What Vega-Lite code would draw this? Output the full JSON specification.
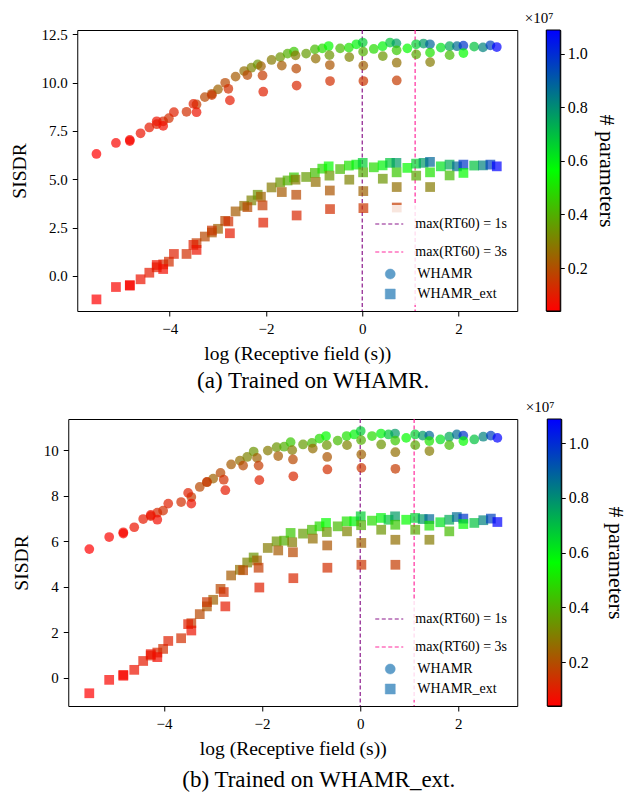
{
  "$schema": "https://vega.github.io/schema/vega-lite/v6.json",
  "padding": {"left": 8, "top": 10, "right": 4, "bottom": 2},
  "background": "white",
  "datasets": {
    "rt": [{"x": 0, "name": "max(RT60) = 1s"}, {"x": 1.0986, "name": "max(RT60) = 3s"}],
    "a": [
      {"x": -5.521, "p": 399700, "WHAMR": 6.31, "WHAMR_ext": -1.21},
      {"x": -5.116, "p": 532400, "WHAMR": 6.88, "WHAMR_ext": -0.57},
      {"x": -4.828, "p": 665100, "WHAMR": 7.04, "WHAMR_ext": -0.47},
      {"x": -4.605, "p": 797800, "WHAMR": 7.38, "WHAMR_ext": -0.17},
      {"x": -4.423, "p": 930500, "WHAMR": 7.68, "WHAMR_ext": 0.17},
      {"x": -4.269, "p": 1063200, "WHAMR": 7.85, "WHAMR_ext": 0.45},
      {"x": -4.135, "p": 1195900, "WHAMR": 8.0, "WHAMR_ext": 0.6},
      {"x": -4.017, "p": 1328600, "WHAMR": 8.16, "WHAMR_ext": 0.74},
      {"x": -4.828, "p": 532400, "WHAMR": 6.98, "WHAMR_ext": -0.5},
      {"x": -4.269, "p": 797800, "WHAMR": 8.0, "WHAMR_ext": 0.57},
      {"x": -3.912, "p": 1063200, "WHAMR": 8.47, "WHAMR_ext": 1.14},
      {"x": -3.65, "p": 1328600, "WHAMR": 8.49, "WHAMR_ext": 1.14},
      {"x": -3.442, "p": 1594000, "WHAMR": 8.87, "WHAMR_ext": 1.7},
      {"x": -3.27, "p": 1859400, "WHAMR": 9.25, "WHAMR_ext": 2.04},
      {"x": -3.124, "p": 2124800, "WHAMR": 9.42, "WHAMR_ext": 2.25},
      {"x": -2.996, "p": 2390200, "WHAMR": 9.65, "WHAMR_ext": 2.44},
      {"x": -4.135, "p": 665100, "WHAMR": 7.76, "WHAMR_ext": 0.36},
      {"x": -3.507, "p": 1063200, "WHAMR": 8.9, "WHAMR_ext": 1.61},
      {"x": -3.124, "p": 1461300, "WHAMR": 9.35, "WHAMR_ext": 2.35},
      {"x": -2.847, "p": 1859400, "WHAMR": 9.99, "WHAMR_ext": 2.85},
      {"x": -2.631, "p": 2257500, "WHAMR": 10.31, "WHAMR_ext": 3.34},
      {"x": -2.453, "p": 2655600, "WHAMR": 10.6, "WHAMR_ext": 3.63},
      {"x": -2.303, "p": 3053700, "WHAMR": 10.77, "WHAMR_ext": 3.91},
      {"x": -2.172, "p": 3451800, "WHAMR": 10.94, "WHAMR_ext": 4.2},
      {"x": -3.442, "p": 797800, "WHAMR": 8.47, "WHAMR_ext": 1.35},
      {"x": -2.781, "p": 1328600, "WHAMR": 9.68, "WHAMR_ext": 2.82},
      {"x": -2.386, "p": 1859400, "WHAMR": 10.39, "WHAMR_ext": 3.56},
      {"x": -2.104, "p": 2390200, "WHAMR": 10.85, "WHAMR_ext": 4.1},
      {"x": -1.884, "p": 2921000, "WHAMR": 11.17, "WHAMR_ext": 4.58},
      {"x": -1.704, "p": 3451800, "WHAMR": 11.32, "WHAMR_ext": 4.84},
      {"x": -1.551, "p": 3982600, "WHAMR": 11.5, "WHAMR_ext": 4.94},
      {"x": -1.419, "p": 4513400, "WHAMR": 11.6, "WHAMR_ext": 5.1},
      {"x": -2.749, "p": 930500, "WHAMR": 9.08, "WHAMR_ext": 2.21},
      {"x": -2.071, "p": 1594000, "WHAMR": 10.37, "WHAMR_ext": 3.65},
      {"x": -1.671, "p": 2257500, "WHAMR": 10.88, "WHAMR_ext": 4.34},
      {"x": -1.386, "p": 2921000, "WHAMR": 11.41, "WHAMR_ext": 4.98},
      {"x": -1.165, "p": 3584500, "WHAMR": 11.5, "WHAMR_ext": 5.12},
      {"x": -0.984, "p": 4248000, "WHAMR": 11.72, "WHAMR_ext": 5.33},
      {"x": -0.83, "p": 4911500, "WHAMR": 11.77, "WHAMR_ext": 5.55},
      {"x": -0.697, "p": 5575000, "WHAMR": 11.89, "WHAMR_ext": 5.67},
      {"x": -2.056, "p": 1063200, "WHAMR": 9.53, "WHAMR_ext": 2.76},
      {"x": -1.371, "p": 1859400, "WHAMR": 10.72, "WHAMR_ext": 4.2},
      {"x": -0.967, "p": 2655600, "WHAMR": 11.24, "WHAMR_ext": 4.86},
      {"x": -0.681, "p": 3451800, "WHAMR": 11.42, "WHAMR_ext": 5.19},
      {"x": -0.459, "p": 4248000, "WHAMR": 11.77, "WHAMR_ext": 5.53},
      {"x": -0.277, "p": 5044200, "WHAMR": 11.81, "WHAMR_ext": 5.71},
      {"x": -0.123, "p": 5840400, "WHAMR": 11.98, "WHAMR_ext": 5.76},
      {"x": 0.01, "p": 6636600, "WHAMR": 12.07, "WHAMR_ext": 5.85},
      {"x": -1.363, "p": 1195900, "WHAMR": 9.85, "WHAMR_ext": 3.13},
      {"x": -0.673, "p": 2124800, "WHAMR": 10.91, "WHAMR_ext": 4.42},
      {"x": -0.269, "p": 3053700, "WHAMR": 11.32, "WHAMR_ext": 4.98},
      {"x": 0.018, "p": 3982600, "WHAMR": 11.6, "WHAMR_ext": 5.36},
      {"x": 0.24, "p": 4911500, "WHAMR": 11.74, "WHAMR_ext": 5.62},
      {"x": 0.423, "p": 5840400, "WHAMR": 11.88, "WHAMR_ext": 5.72},
      {"x": 0.577, "p": 6769300, "WHAMR": 12.07, "WHAMR_ext": 5.85},
      {"x": 0.71, "p": 7698200, "WHAMR": 12.03, "WHAMR_ext": 5.85},
      {"x": -0.669, "p": 1328600, "WHAMR": 10.08, "WHAMR_ext": 3.46},
      {"x": 0.022, "p": 2390200, "WHAMR": 10.88, "WHAMR_ext": 4.39},
      {"x": 0.427, "p": 3451800, "WHAMR": 11.37, "WHAMR_ext": 5.03},
      {"x": 0.714, "p": 4513400, "WHAMR": 11.67, "WHAMR_ext": 5.36},
      {"x": 0.937, "p": 5575000, "WHAMR": 11.77, "WHAMR_ext": 5.59},
      {"x": 1.119, "p": 6636600, "WHAMR": 11.98, "WHAMR_ext": 5.81},
      {"x": 1.273, "p": 7698200, "WHAMR": 12.02, "WHAMR_ext": 5.85},
      {"x": 1.407, "p": 8759800, "WHAMR": 11.98, "WHAMR_ext": 5.9},
      {"x": 0.024, "p": 1461300, "WHAMR": 10.08, "WHAMR_ext": 3.51},
      {"x": 0.716, "p": 2655600, "WHAMR": 11.03, "WHAMR_ext": 4.6},
      {"x": 1.121, "p": 3849900, "WHAMR": 11.46, "WHAMR_ext": 5.19},
      {"x": 1.408, "p": 5044200, "WHAMR": 11.55, "WHAMR_ext": 5.36},
      {"x": 1.632, "p": 6238500, "WHAMR": 11.81, "WHAMR_ext": 5.67},
      {"x": 1.814, "p": 7432800, "WHAMR": 11.88, "WHAMR_ext": 5.76},
      {"x": 1.968, "p": 8627100, "WHAMR": 11.88, "WHAMR_ext": 5.67},
      {"x": 2.101, "p": 9821400, "WHAMR": 11.91, "WHAMR_ext": 5.76},
      {"x": 0.717, "p": 1594000, "WHAMR": 10.11, "WHAMR_ext": 3.54},
      {"x": 1.41, "p": 2921000, "WHAMR": 11.06, "WHAMR_ext": 4.6},
      {"x": 1.815, "p": 4248000, "WHAMR": 11.42, "WHAMR_ext": 5.2},
      {"x": 2.102, "p": 5575000, "WHAMR": 11.53, "WHAMR_ext": 5.33},
      {"x": 2.325, "p": 6902000, "WHAMR": 11.86, "WHAMR_ext": 5.71},
      {"x": 2.508, "p": 8229000, "WHAMR": 11.82, "WHAMR_ext": 5.72},
      {"x": 2.662, "p": 9556000, "WHAMR": 11.93, "WHAMR_ext": 5.76},
      {"x": 2.795, "p": 10883000, "WHAMR": 11.84, "WHAMR_ext": 5.67}
    ],
    "b": [
      {"x": -5.521, "p": 399700, "WHAMR": 5.65, "WHAMR_ext": -0.69},
      {"x": -5.116, "p": 532400, "WHAMR": 6.18, "WHAMR_ext": -0.1},
      {"x": -4.828, "p": 665100, "WHAMR": 6.39, "WHAMR_ext": 0.12},
      {"x": -4.605, "p": 797800, "WHAMR": 6.61, "WHAMR_ext": 0.34},
      {"x": -4.423, "p": 930500, "WHAMR": 6.97, "WHAMR_ext": 0.73},
      {"x": -4.269, "p": 1063200, "WHAMR": 7.1, "WHAMR_ext": 0.97},
      {"x": -4.135, "p": 1195900, "WHAMR": 7.25, "WHAMR_ext": 1.1},
      {"x": -4.017, "p": 1328600, "WHAMR": 7.34, "WHAMR_ext": 1.26},
      {"x": -4.828, "p": 532400, "WHAMR": 6.33, "WHAMR_ext": 0.08},
      {"x": -4.269, "p": 797800, "WHAMR": 7.15, "WHAMR_ext": 1.03},
      {"x": -3.912, "p": 1063200, "WHAMR": 7.65, "WHAMR_ext": 1.61},
      {"x": -3.65, "p": 1328600, "WHAMR": 7.72, "WHAMR_ext": 1.73},
      {"x": -3.442, "p": 1594000, "WHAMR": 7.94, "WHAMR_ext": 2.39},
      {"x": -3.27, "p": 1859400, "WHAMR": 8.38, "WHAMR_ext": 2.79},
      {"x": -3.124, "p": 2124800, "WHAMR": 8.59, "WHAMR_ext": 3.13},
      {"x": -2.996, "p": 2390200, "WHAMR": 8.75, "WHAMR_ext": 3.42},
      {"x": -4.135, "p": 665100, "WHAMR": 6.94, "WHAMR_ext": 0.9},
      {"x": -3.507, "p": 1063200, "WHAMR": 8.12, "WHAMR_ext": 2.35},
      {"x": -3.124, "p": 1461300, "WHAMR": 8.6, "WHAMR_ext": 3.32},
      {"x": -2.847, "p": 1859400, "WHAMR": 9.0, "WHAMR_ext": 3.9},
      {"x": -2.631, "p": 2257500, "WHAMR": 9.37, "WHAMR_ext": 4.49},
      {"x": -2.453, "p": 2655600, "WHAMR": 9.54, "WHAMR_ext": 4.74},
      {"x": -2.303, "p": 3053700, "WHAMR": 9.7, "WHAMR_ext": 5.06},
      {"x": -2.172, "p": 3451800, "WHAMR": 9.94, "WHAMR_ext": 5.28},
      {"x": -3.442, "p": 797800, "WHAMR": 7.65, "WHAMR_ext": 2.07},
      {"x": -2.781, "p": 1328600, "WHAMR": 8.7, "WHAMR_ext": 3.76},
      {"x": -2.386, "p": 1859400, "WHAMR": 9.32, "WHAMR_ext": 4.72},
      {"x": -2.104, "p": 2390200, "WHAMR": 9.66, "WHAMR_ext": 5.15},
      {"x": -1.884, "p": 2921000, "WHAMR": 9.98, "WHAMR_ext": 5.7},
      {"x": -1.704, "p": 3451800, "WHAMR": 10.13, "WHAMR_ext": 5.99},
      {"x": -1.551, "p": 3982600, "WHAMR": 10.15, "WHAMR_ext": 6.02},
      {"x": -1.419, "p": 4513400, "WHAMR": 10.35, "WHAMR_ext": 6.36},
      {"x": -2.749, "p": 930500, "WHAMR": 8.24, "WHAMR_ext": 3.13},
      {"x": -2.071, "p": 1594000, "WHAMR": 9.32, "WHAMR_ext": 4.83},
      {"x": -1.671, "p": 2257500, "WHAMR": 9.74, "WHAMR_ext": 5.59},
      {"x": -1.386, "p": 2921000, "WHAMR": 10.0, "WHAMR_ext": 5.95},
      {"x": -1.165, "p": 3584500, "WHAMR": 10.25, "WHAMR_ext": 6.33},
      {"x": -0.984, "p": 4248000, "WHAMR": 10.32, "WHAMR_ext": 6.5},
      {"x": -0.83, "p": 4911500, "WHAMR": 10.51, "WHAMR_ext": 6.65},
      {"x": -0.697, "p": 5575000, "WHAMR": 10.62, "WHAMR_ext": 6.8},
      {"x": -2.056, "p": 1063200, "WHAMR": 8.68, "WHAMR_ext": 3.96},
      {"x": -1.371, "p": 1859400, "WHAMR": 9.59, "WHAMR_ext": 5.51},
      {"x": -0.967, "p": 2655600, "WHAMR": 10.07, "WHAMR_ext": 6.11},
      {"x": -0.681, "p": 3451800, "WHAMR": 10.22, "WHAMR_ext": 6.4},
      {"x": -0.459, "p": 4248000, "WHAMR": 10.42, "WHAMR_ext": 6.65},
      {"x": -0.277, "p": 5044200, "WHAMR": 10.62, "WHAMR_ext": 6.87},
      {"x": -0.123, "p": 5840400, "WHAMR": 10.69, "WHAMR_ext": 6.87},
      {"x": 0.01, "p": 6636600, "WHAMR": 10.84, "WHAMR_ext": 7.09},
      {"x": -1.363, "p": 1195900, "WHAMR": 8.85, "WHAMR_ext": 4.37},
      {"x": -0.673, "p": 2124800, "WHAMR": 9.7, "WHAMR_ext": 5.81},
      {"x": -0.269, "p": 3053700, "WHAMR": 10.22, "WHAMR_ext": 6.43},
      {"x": 0.018, "p": 3982600, "WHAMR": 10.44, "WHAMR_ext": 6.7},
      {"x": 0.24, "p": 4911500, "WHAMR": 10.62, "WHAMR_ext": 6.9},
      {"x": 0.423, "p": 5840400, "WHAMR": 10.73, "WHAMR_ext": 7.02},
      {"x": 0.577, "p": 6769300, "WHAMR": 10.69, "WHAMR_ext": 6.94},
      {"x": 0.71, "p": 7698200, "WHAMR": 10.73, "WHAMR_ext": 7.09},
      {"x": -0.669, "p": 1328600, "WHAMR": 9.15, "WHAMR_ext": 4.83},
      {"x": 0.022, "p": 2390200, "WHAMR": 9.81, "WHAMR_ext": 5.92},
      {"x": 0.427, "p": 3451800, "WHAMR": 10.25, "WHAMR_ext": 6.5},
      {"x": 0.714, "p": 4513400, "WHAMR": 10.42, "WHAMR_ext": 6.72},
      {"x": 0.937, "p": 5575000, "WHAMR": 10.54, "WHAMR_ext": 6.94},
      {"x": 1.119, "p": 6636600, "WHAMR": 10.69, "WHAMR_ext": 7.02},
      {"x": 1.273, "p": 7698200, "WHAMR": 10.64, "WHAMR_ext": 6.97},
      {"x": 1.407, "p": 8759800, "WHAMR": 10.64, "WHAMR_ext": 6.97},
      {"x": 0.024, "p": 1461300, "WHAMR": 9.22, "WHAMR_ext": 4.96},
      {"x": 0.716, "p": 2655600, "WHAMR": 9.91, "WHAMR_ext": 6.06},
      {"x": 1.121, "p": 3849900, "WHAMR": 10.22, "WHAMR_ext": 6.5},
      {"x": 1.408, "p": 5044200, "WHAMR": 10.4, "WHAMR_ext": 6.68},
      {"x": 1.632, "p": 6238500, "WHAMR": 10.47, "WHAMR_ext": 6.83},
      {"x": 1.814, "p": 7432800, "WHAMR": 10.59, "WHAMR_ext": 6.94},
      {"x": 1.968, "p": 8627100, "WHAMR": 10.69, "WHAMR_ext": 7.06},
      {"x": 2.101, "p": 9821400, "WHAMR": 10.64, "WHAMR_ext": 6.99},
      {"x": 0.717, "p": 1594000, "WHAMR": 9.18, "WHAMR_ext": 4.96},
      {"x": 1.41, "p": 2921000, "WHAMR": 9.96, "WHAMR_ext": 6.06},
      {"x": 1.815, "p": 4248000, "WHAMR": 10.22, "WHAMR_ext": 6.43},
      {"x": 2.102, "p": 5575000, "WHAMR": 10.4, "WHAMR_ext": 6.75},
      {"x": 2.325, "p": 6902000, "WHAMR": 10.47, "WHAMR_ext": 6.8},
      {"x": 2.508, "p": 8229000, "WHAMR": 10.59, "WHAMR_ext": 6.92},
      {"x": 2.662, "p": 9556000, "WHAMR": 10.64, "WHAMR_ext": 6.99},
      {"x": 2.795, "p": 10883000, "WHAMR": 10.54, "WHAMR_ext": 6.84}
    ]
  },
  "resolve": {"scale": {"color": "independent", "shape": "independent", "stroke": "independent"}, "legend": {"color": "independent", "shape": "independent", "stroke": "independent"}},
  "columns": 1,
  "center": true,
  "spacing": 6,
  "concat": [
    {
      "title": {"text": "(a) Trained on WHAMR.", "orient": "bottom", "anchor": "middle", "frame": "bounds", "fontSize": 23, "offset": 7},
      "spacing": 6,
      "resolve": {"scale": {"color": "independent", "shape": "independent", "stroke": "independent"}, "legend": {"color": "independent", "shape": "independent", "stroke": "independent"}},
      "hconcat": [
        {
          "width": 440,
          "height": 281,
          "layer": [
            {
              "data": {"name": "rt"},
              "mark": {"type": "rule", "strokeDash": [4, 2.5], "strokeWidth": 1.2, "opacity": 0.9},
              "encoding": {
                "x": {"field": "x", "type": "quantitative", "scale": {"domain": [-5.92, 3.22], "nice": false, "zero": false}, "axis": {"values": [-4, -2, 0, 2], "title": "log (Receptive field (s))"}},
                "stroke": {
                  "field": "name", "type": "nominal",
                  "scale": {"domain": ["max(RT60) = 1s", "max(RT60) = 3s"], "range": ["#800080", "#ff1493"]},
                  "legend": {
                    "title": null, "orient": "bottom-right", "offset": 6, "padding": 4,
                    "fillColor": "rgba(255,255,255,0.82)", "cornerRadius": 4,
                    "labelFontSize": 14, "labelOffset": 11, "rowPadding": 6,
                    "symbolType": "stroke", "symbolSize": 784, "symbolDash": [4, 2.5], "symbolStrokeWidth": 1.2, "symbolOpacity": 0.9
                  }
                }
              }
            },
            {
              "data": {"name": "a"},
              "transform": [{"fold": ["WHAMR", "WHAMR_ext"], "as": ["dataset", "sisdr"]}],
              "mark": {"type": "point", "filled": true, "opacity": 0.7, "size": 95},
              "encoding": {
                "x": {"field": "x", "type": "quantitative"},
                "y": {"field": "sisdr", "type": "quantitative", "scale": {"domain": [-1.81, 12.72], "nice": false, "zero": false}, "axis": {"values": [0, 2.5, 5, 7.5, 10, 12.5], "format": ".1f", "title": "SISDR"}},
                "color": {"field": "p", "type": "quantitative", "scale": {"domain": [399700, 5641350, 10883000], "range": ["#ff0000", "#00ff00", "#0000ff"], "interpolate": "rgb"}, "legend": null},
                "shape": {
                  "field": "dataset", "type": "nominal",
                  "scale": {"domain": ["WHAMR", "WHAMR_ext"], "range": ["circle", "square"]},
                  "legend": {
                    "title": null, "orient": "bottom-right", "offset": 6, "padding": 4,
                    "fillColor": "rgba(255,255,255,0.82)", "cornerRadius": 4,
                    "labelFontSize": 14, "labelOffset": 20, "rowPadding": 6,
                    "symbolSize": 100, "symbolOffset": 9, "symbolFillColor": "#1f77b4", "symbolStrokeColor": "#1f77b4", "symbolStrokeWidth": 0.5, "symbolOpacity": 0.7
                  }
                }
              }
            }
          ]
        },
        {
          "width": 14,
          "height": 281,
          "data": {"values": [{"lo": 399700, "hi": 10883000}]},
          "title": {"text": "×10⁷", "anchor": "start", "dx": -21, "fontSize": 15, "offset": 4},
          "mark": {"type": "rect", "stroke": "black", "strokeWidth": 1, "color": {"gradient": "linear", "x1": 0, "y1": 1, "x2": 0, "y2": 0, "stops": [{"offset": 0, "color": "#ff0000"}, {"offset": 0.5, "color": "#00ff00"}, {"offset": 1, "color": "#0000ff"}]}},
          "encoding": {
            "y": {"field": "lo", "type": "quantitative", "scale": {"domain": [399700, 10883000], "nice": false, "zero": false}, "axis": {"orient": "right", "values": [2000000, 4000000, 6000000, 8000000, 10000000], "labelExpr": "format(datum.value / 10000000, '.1f')", "title": "# parameters", "titleFontSize": 22, "labelFontSize": 16, "titlePadding": 7, "tickSize": 4, "labelPadding": 3}},
            "y2": {"field": "hi"}
          }
        }
      ]
    },
    {
      "title": {"text": "(b) Trained on WHAMR_ext.", "orient": "bottom", "anchor": "middle", "frame": "bounds", "fontSize": 23, "offset": 11},
      "spacing": 7,
      "resolve": {"scale": {"color": "independent", "shape": "independent", "stroke": "independent"}, "legend": {"color": "independent", "shape": "independent", "stroke": "independent"}},
      "hconcat": [
        {
          "width": 449,
          "height": 287,
          "layer": [
            {
              "data": {"name": "rt"},
              "mark": {"type": "rule", "strokeDash": [4, 2.5], "strokeWidth": 1.2, "opacity": 0.9},
              "encoding": {
                "x": {"field": "x", "type": "quantitative", "scale": {"domain": [-5.95, 3.2], "nice": false, "zero": false}, "axis": {"values": [-4, -2, 0, 2], "title": "log (Receptive field (s))"}},
                "stroke": {
                  "field": "name", "type": "nominal",
                  "scale": {"domain": ["max(RT60) = 1s", "max(RT60) = 3s"], "range": ["#800080", "#ff1493"]},
                  "legend": {
                    "title": null, "orient": "bottom-right", "offset": 6, "padding": 4,
                    "fillColor": "rgba(255,255,255,0.82)", "cornerRadius": 4,
                    "labelFontSize": 14, "labelOffset": 11, "rowPadding": 6,
                    "symbolType": "stroke", "symbolSize": 784, "symbolDash": [4, 2.5], "symbolStrokeWidth": 1.2, "symbolOpacity": 0.9
                  }
                }
              }
            },
            {
              "data": {"name": "b"},
              "transform": [{"fold": ["WHAMR", "WHAMR_ext"], "as": ["dataset", "sisdr"]}],
              "mark": {"type": "point", "filled": true, "opacity": 0.7, "size": 95},
              "encoding": {
                "x": {"field": "x", "type": "quantitative"},
                "y": {"field": "sisdr", "type": "quantitative", "scale": {"domain": [-1.25, 11.37], "nice": false, "zero": false}, "axis": {"values": [0, 2, 4, 6, 8, 10], "format": "d", "title": "SISDR"}},
                "color": {"field": "p", "type": "quantitative", "scale": {"domain": [399700, 5641350, 10883000], "range": ["#ff0000", "#00ff00", "#0000ff"], "interpolate": "rgb"}, "legend": null},
                "shape": {
                  "field": "dataset", "type": "nominal",
                  "scale": {"domain": ["WHAMR", "WHAMR_ext"], "range": ["circle", "square"]},
                  "legend": {
                    "title": null, "orient": "bottom-right", "offset": 6, "padding": 4,
                    "fillColor": "rgba(255,255,255,0.82)", "cornerRadius": 4,
                    "labelFontSize": 14, "labelOffset": 20, "rowPadding": 6,
                    "symbolSize": 100, "symbolOffset": 9, "symbolFillColor": "#1f77b4", "symbolStrokeColor": "#1f77b4", "symbolStrokeWidth": 0.5, "symbolOpacity": 0.7
                  }
                }
              }
            }
          ]
        },
        {
          "width": 14,
          "height": 287,
          "data": {"values": [{"lo": 399700, "hi": 10883000}]},
          "title": {"text": "×10⁷", "anchor": "start", "dx": -21, "fontSize": 15, "offset": 4},
          "mark": {"type": "rect", "stroke": "black", "strokeWidth": 1, "color": {"gradient": "linear", "x1": 0, "y1": 1, "x2": 0, "y2": 0, "stops": [{"offset": 0, "color": "#ff0000"}, {"offset": 0.5, "color": "#00ff00"}, {"offset": 1, "color": "#0000ff"}]}},
          "encoding": {
            "y": {"field": "lo", "type": "quantitative", "scale": {"domain": [399700, 10883000], "nice": false, "zero": false}, "axis": {"orient": "right", "values": [2000000, 4000000, 6000000, 8000000, 10000000], "labelExpr": "format(datum.value / 10000000, '.1f')", "title": "# parameters", "titleFontSize": 22, "labelFontSize": 16, "titlePadding": 15, "tickSize": 4, "labelPadding": 3}},
            "y2": {"field": "hi"}
          }
        }
      ]
    }
  ],
  "config": {
    "font": "Liberation Serif",
    "view": {"stroke": "black", "strokeWidth": 1},
    "axis": {"grid": false, "domain": false, "labelFont": "Liberation Serif", "titleFont": "Liberation Serif", "labelFontSize": 15, "titleFontSize": 19.5, "titleFontWeight": "normal", "labelColor": "black", "titleColor": "black", "tickColor": "black", "tickSize": 5, "labelPadding": 5, "titlePadding": 8},
    "axisY": {"titlePadding": 12},
    "legend": {"labelFont": "Liberation Serif", "labelColor": "black", "layout": {"bottom-right": {"direction": "vertical", "anchor": "end", "margin": 0}}},
    "title": {"font": "Liberation Serif", "fontWeight": "normal", "color": "black"}
  }
}
